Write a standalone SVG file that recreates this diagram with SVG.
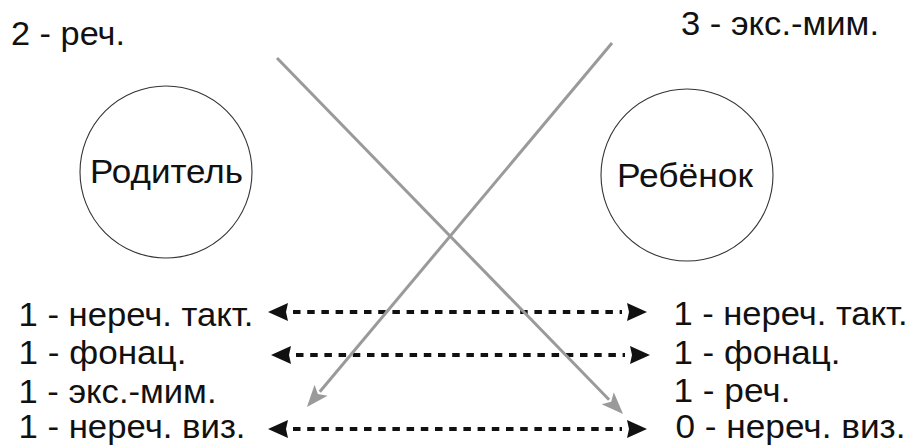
<svg xmlns="http://www.w3.org/2000/svg" width="914" height="446" viewBox="0 0 914 446">
<style>
text{font-family:"Liberation Sans",Arial,sans-serif;font-size:34px;fill:#111;}
.c{fill:#fff;stroke:#333;stroke-width:1.1;}
.d{stroke:#111;stroke-width:3.8;stroke-dasharray:7.5 6.7;fill:none;}
.g{stroke:#9a9a9a;stroke-width:3;fill:none;}
</style>
<defs>
<marker id="ah" markerUnits="userSpaceOnUse" viewBox="0 -10 26 20" markerWidth="26" markerHeight="20" refX="0" refY="0" orient="auto-start-reverse">
<path d="M25,0 L5,-9 L7,0 L5,9 Z" fill="#111"/>
</marker>
<marker id="gh" markerUnits="userSpaceOnUse" viewBox="-3 -10 24 20" markerWidth="24" markerHeight="20" refX="0" refY="0" orient="auto">
<path d="M20,0 L-2,-8.5 L3,0 L-2,8.5 Z" fill="#9a9a9a"/>
</marker>
</defs>
<rect width="914" height="446" fill="#fff"/>
<g id="label-top-left"><text x="11" y="45" textLength="114" lengthAdjust="spacingAndGlyphs">2 - реч.</text></g>
<g id="label-top-right"><text x="681" y="35" textLength="198" lengthAdjust="spacingAndGlyphs">3 - экс.-мим.</text></g>
<g id="node-parent">
<circle class="c" cx="166" cy="172" r="86"/>
<text x="90" y="183" textLength="153" lengthAdjust="spacingAndGlyphs">Родитель</text>
</g>
<g id="node-child">
<circle class="c" cx="687" cy="175" r="86"/>
<text x="617" y="187" textLength="136" lengthAdjust="spacingAndGlyphs">Ребёнок</text>
</g>
<g id="list-parent">
<text x="18.5" y="326" textLength="235" lengthAdjust="spacingAndGlyphs">1 - нереч. такт.</text>
<text x="18.5" y="364" textLength="168" lengthAdjust="spacingAndGlyphs">1 - фонац.</text>
<text x="18.5" y="403" textLength="198" lengthAdjust="spacingAndGlyphs">1 - экс.-мим.</text>
<text x="18.5" y="438" textLength="227" lengthAdjust="spacingAndGlyphs">1 - нереч. виз.</text>
</g>
<g id="list-child">
<text x="673.5" y="325" textLength="234" lengthAdjust="spacingAndGlyphs">1 - нереч. такт.</text>
<text x="673.5" y="364" textLength="167" lengthAdjust="spacingAndGlyphs">1 - фонац.</text>
<text x="673.5" y="402" textLength="117" lengthAdjust="spacingAndGlyphs">1 - реч.</text>
<text x="675.5" y="438" textLength="230" lengthAdjust="spacingAndGlyphs">0 - нереч. виз.</text>
</g>
<g id="connectors">
<line class="d" x1="293" y1="312" x2="622" y2="312" marker-start="url(#ah)" marker-end="url(#ah)"/>
<line class="d" x1="296" y1="355" x2="625" y2="355" marker-start="url(#ah)" marker-end="url(#ah)"/>
<line class="d" x1="293" y1="429" x2="622" y2="429" marker-start="url(#ah)" marker-end="url(#ah)"/>
<line class="g" x1="277" y1="58" x2="609.1" y2="399.7" marker-end="url(#gh)"/>
<line class="g" x1="612" y1="43" x2="319.8" y2="391.7" marker-end="url(#gh)"/>
</g>
</svg>
